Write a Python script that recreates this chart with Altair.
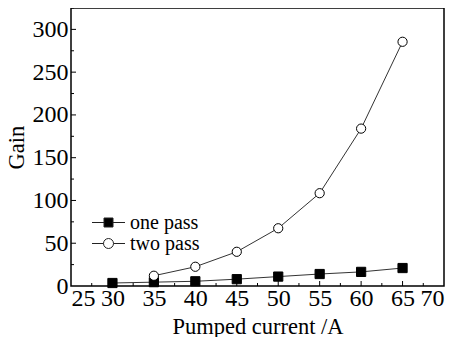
import altair as alt
import pandas as pd

current_one = [30, 35, 40, 45, 50, 55, 60, 65]
gain_one = [3.5, 4.5, 5.5, 8, 11, 14, 16.5, 21]
current_two = [35, 40, 45, 50, 55, 60, 65]
gain_two = [12, 22.5, 40, 67.5, 108.5, 184, 285.5]
series_names = ["one pass", "two pass"]
x_major = [25, 30, 35, 40, 45, 50, 55, 60, 65, 70]
x_minor = [27.5, 32.5, 37.5, 42.5, 47.5, 52.5, 57.5, 62.5, 67.5]
y_major = [0, 50, 100, 150, 200, 250, 300]
y_minor = [25, 75, 125, 175, 225, 275, 325]

W, H = 373, 278
FONT = "Liberation Serif"

df = pd.concat([
    pd.DataFrame({"current": current_one, "gain": gain_one, "series": series_names[0]}),
    pd.DataFrame({"current": current_two, "gain": gain_two, "series": series_names[1]}),
])

xs = alt.Scale(domain=[25, 70], nice=False, zero=False)
ys = alt.Scale(domain=[0, 325], nice=False)

x_axis = alt.Axis(values=x_major, ticks=False, tickSize=0, domain=False, grid=False,
                  labelPadding=0, titlePadding=5)
y_axis = alt.Axis(values=y_major, ticks=False, tickSize=0, domain=False, grid=False,
                  labelPadding=3, titlePadding=4)


def X(field):
    return alt.X(field, type="quantitative", scale=xs, title="Pumped current /A", axis=x_axis)


def Y(field):
    return alt.Y(field, type="quantitative", scale=ys, title="Gain", axis=y_axis)


lines = alt.Chart(df).mark_line(color="#333333", strokeWidth=1).encode(
    x=X("current"), y=Y("gain"), detail="series:N")

points = alt.Chart(df).mark_point(size=85, strokeWidth=1, opacity=1).encode(
    x=X("current"), y=Y("gain"),
    shape=alt.Shape("series:N", scale=alt.Scale(domain=series_names, range=["square", "circle"]), legend=None),
    fill=alt.Fill("series:N", scale=alt.Scale(domain=series_names, range=["black", "white"]), legend=None),
    stroke=alt.Stroke("series:N", scale=alt.Scale(domain=series_names, range=["black", "black"]), legend=None),
)

sq_path = "M-1.65,0H-0.45M0.45,0H1.65M-0.45,-0.45H0.45V0.45H-0.45Z"
ci_path = "M-1.65,0H-0.5M0.5,0H1.65M-0.5,0A0.5,0.5 0 1,0 0.5,0A0.5,0.5 0 1,0 -0.5,0Z"
leg = alt.Legend(title=None, orient="none", legendX=27, legendY=204,
                 symbolSize=400, symbolStrokeWidth=1, symbolOpacity=1,
                 labelFont=FONT, labelFontSize=20, labelColor="black",
                 labelOffset=11, rowPadding=0)
legend_layer = alt.Chart(df).transform_calculate(
    hidden="datum.gain + 100000"
).mark_point(size=400, opacity=1, strokeWidth=1, clip=True).encode(
    x=X("current"), y=Y("hidden"),
    shape=alt.Shape("series:N", scale=alt.Scale(domain=series_names, range=[sq_path, ci_path]), legend=leg),
    fill=alt.Fill("series:N", scale=alt.Scale(domain=series_names, range=["black", "white"]), legend=leg),
    stroke=alt.Stroke("series:N", scale=alt.Scale(domain=series_names, range=["#222222", "#222222"]), legend=leg),
)

xt_major = alt.Chart(pd.DataFrame({"v": x_major[1:-1]})).mark_rule(color="black", strokeWidth=1).encode(
    x=X("v"), y=alt.value(H), y2=alt.value(H - 5))
xt_minor = alt.Chart(pd.DataFrame({"v": x_minor})).mark_rule(color="black", strokeWidth=1).encode(
    x=X("v"), y=alt.value(H), y2=alt.value(H - 3))
yt_major = alt.Chart(pd.DataFrame({"v": y_major[1:]})).mark_rule(color="black", strokeWidth=1).encode(
    y=Y("v"), x=alt.value(0), x2=alt.value(5))
yt_minor = alt.Chart(pd.DataFrame({"v": y_minor})).mark_rule(color="black", strokeWidth=1).encode(
    y=Y("v"), x=alt.value(0), x2=alt.value(3))

chart = alt.layer(lines, xt_major, xt_minor, yt_major, yt_minor, points, legend_layer).resolve_scale(
    shape="independent", fill="independent", stroke="independent"
).properties(
    width=W, height=H,
    autosize=alt.AutoSizeParams(type="none"),
    padding={"left": 63, "top": 0, "right": 6, "bottom": 51},
).configure(background="white", font=FONT).configure_view(
    stroke="black", strokeWidth=1.5
).configure_axis(
    labelFont=FONT, labelFontSize=24, labelColor="black",
    titleFont=FONT, titleFontSize=22.5, titleFontWeight="normal", titleColor="black",
)

chart.save("out.html", embed_options={"renderer": "svg", "actions": False})
